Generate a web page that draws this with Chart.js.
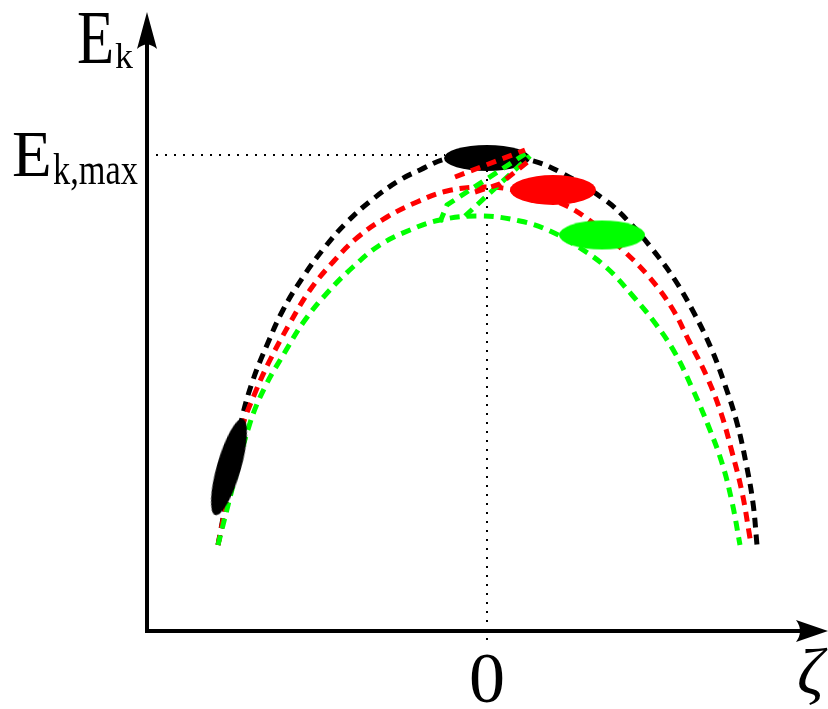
<!DOCTYPE html>
<html>
<head>
<meta charset="utf-8">
<script src="https://cdn.jsdelivr.net/npm/chart.js@4.4.0/dist/chart.umd.min.js"></script>
<style>
  html, body { margin: 0; padding: 0; background: #fff; }
  #wrap { width: 828px; height: 709px; position: relative; }
</style>
</head>
<body>
<div id="wrap"><canvas id="chart"></canvas></div>
<script>
// values; zeta horizontal, E_k vertical, origin where the axes meet
const blackZeta = [-269, -257, -245, -234, -220, -204, -184, -162, -140, -114, -87, -67, -42, 0, 43, 73, 118, 142, 166, 188, 207, 224, 238, 250, 259, 266, 270];
const blackE    = [86, 150, 213, 251, 286, 321, 354, 384, 409, 432, 451, 461, 472, 478, 471, 459, 431, 409, 381, 351, 318, 283, 246, 208, 168, 128, 86];

const redZeta = [-269, -257, -245, -232, -217, -197, -177, -154, -129, -100, -70, -40, -2, 33, 66, 98, 138, 163, 185, 202, 220, 234, 245, 255, 262, 264];
const redE    = [86, 146, 203, 238, 271, 308, 341, 369, 394, 414, 429, 440, 444, 440, 431, 414, 379, 353, 323, 290, 254, 218, 179, 139, 99, 86];

const greenZeta = [-269, -253, -237, -222, -202, -182, -159, -134, -107, -77, -47, -7, 33, 63, 93, 120, 145, 168, 188, 206, 221, 235, 245, 253];
const greenE    = [86, 149, 208, 244, 279, 311, 339, 364, 386, 401, 411, 415, 410, 400, 383, 363, 336, 308, 278, 241, 206, 168, 129, 86];

// short dashed jumps near the top
const redJumpAZeta = [-32, 38];
const redJumpAE    = [454, 481];
const redJumpBZeta = [-12, 13, 43];
const redJumpBE    = [439, 447, 471];
const greenJumpAZeta = [-47, -40, 41];
const greenJumpAE    = [409, 426, 479];
const greenJumpBZeta = [-22, 43];
const greenJumpBE    = [415, 475];

// blobs: black top, red, green, black on the left branch
const blobZeta = [0, 66, 115, -258];
const blobE    = [473, 441, 396, 164];

const eMax = 476;
const zetaTicks = [0];
const axisZeta = [-340, 341];
const axisE = [-78, 631];

const pts = (xs, ys) => xs.map((x, i) => ({ x: x, y: ys[i] }));

function makeBlob(color, rx, ry) {
    const c = document.createElement('canvas');
    c.width = Math.ceil(rx * 2 + 2);
    c.height = Math.ceil(ry * 2 + 2);
    const g = c.getContext('2d');
    g.fillStyle = color;
    g.beginPath();
    g.ellipse(c.width / 2, c.height / 2, rx, ry, 0, 0, Math.PI * 2);
    g.fill();
    return c;
}

const blobStyles = [
    makeBlob('#000000', 43, 13),
    makeBlob('#ff0000', 43, 15),
    makeBlob('#00ff00', 43, 14.5),
    makeBlob('#000000', 12, 50),
];

const dashed = (color, data, order, tension) => ({
    data: data,
    showLine: true,
    borderColor: color,
    borderWidth: 5,
    borderDash: [10, 7],
    borderCapStyle: 'butt',
    pointRadius: 0,
    tension: tension,
    order: order,
});

const dotted = (data) => ({
    data: data,
    showLine: true,
    borderColor: '#000',
    borderWidth: 2,
    borderDash: [2, 7],
    pointRadius: 0,
    order: 9,
});

const figurePlugin = {
    id: 'figure',
    afterDatasetsDraw(chart) {
        const { ctx, scales } = chart;
        const x = scales.x, y = scales.y;
        const ox = x.getPixelForValue(axisZeta[0]);
        const oy = y.getPixelForValue(0);
        const tipX = x.getPixelForValue(axisZeta[1]);
        const tipY = y.getPixelForValue(axisE[1] - 12);
        ctx.save();
        ctx.strokeStyle = '#000';
        ctx.fillStyle = '#000';
        ctx.lineWidth = 4;
        ctx.lineCap = 'square';
        ctx.beginPath();
        ctx.moveTo(ox, oy);
        ctx.lineTo(tipX - 20, oy);
        ctx.moveTo(ox, oy);
        ctx.lineTo(ox, tipY + 20);
        ctx.stroke();
        // arrow heads
        ctx.beginPath();
        ctx.moveTo(tipX, oy);
        ctx.lineTo(tipX - 32, oy - 11);
        ctx.quadraticCurveTo(tipX - 24, oy, tipX - 32, oy + 11);
        ctx.closePath();
        ctx.fill();
        ctx.beginPath();
        ctx.moveTo(ox, tipY);
        ctx.lineTo(ox - 10, tipY + 37);
        ctx.quadraticCurveTo(ox, tipY + 28, ox + 10, tipY + 37);
        ctx.closePath();
        ctx.fill();
        ctx.restore();
    },
    afterDraw(chart) {
        const { ctx, scales } = chart;
        const x = scales.x, y = scales.y;
        ctx.save();
        ctx.fillStyle = '#000';
        ctx.textAlign = 'left';
        ctx.textBaseline = 'alphabetic';

        // E_k at the top of the vertical axis (the sketch's letters are a bit narrow)
        ctx.save();
        ctx.translate(77, 63);
        ctx.scale(0.8, 1);
        ctx.font = '76px "Liberation Serif"';
        ctx.fillText('E', 0, 0);
        ctx.restore();
        ctx.font = '36px "Liberation Serif"';
        ctx.fillText('k', 115, 68);

        const my = y.getPixelForValue(eMax);
        ctx.font = '65px "Liberation Serif"';
        ctx.fillText('E', 12, my + 21);
        ctx.save();
        ctx.translate(53, my + 29);
        ctx.scale(0.78, 1);
        ctx.font = '44px "Liberation Serif"';
        ctx.fillText('k,max', 0, 0);
        ctx.restore();

        ctx.textAlign = 'center';
        ctx.font = '72px "Liberation Serif"';
        zetaTicks.forEach(t => ctx.fillText(String(t), x.getPixelForValue(t), 702));

        ctx.textAlign = 'left';
        ctx.font = 'italic 66px "Liberation Serif"';
        ctx.fillText('ζ', 797, 694);
        ctx.restore();
    }
};

new Chart(document.getElementById('chart'), {
    type: 'scatter',
    data: {
        datasets: [
            dashed('#ff0000', pts(redJumpAZeta, redJumpAE), 1, 0),
            dashed('#ff0000', pts(redJumpBZeta, redJumpBE), 1, 0),
            dashed('#00ff00', pts(greenJumpAZeta, greenJumpAE), 1, 0),
            dashed('#00ff00', pts(greenJumpBZeta, greenJumpBE), 1, 0),
            {
                data: pts(blobZeta, blobE),
                pointStyle: blobStyles,
                rotation: [0, 0, 0, 16],
                pointRadius: 5,
                order: 2,
            },
            dashed('#000000', pts(blackZeta, blackE), 5, 0.4),
            dashed('#ff0000', pts(redZeta, redE), 4, 0.4),
            dashed('#00ff00', pts(greenZeta, greenE), 3, 0.4),
            dotted([{ x: axisZeta[0], y: eMax }, { x: -42, y: eMax }]),
            dotted([{ x: 0, y: 461 }, { x: 0, y: -11 }]),
        ]
    },
    options: {
        responsive: true,
        maintainAspectRatio: false,
        animation: false,
        events: [],
        layout: { padding: 0, autoPadding: false },
        plugins: {
            legend: { display: false },
            tooltip: { enabled: false }
        },
        scales: {
            x: { type: 'linear', min: axisZeta[0] - 147, max: axisZeta[1], display: false },
            y: { type: 'linear', min: axisE[0], max: axisE[1], display: false }
        }
    },
    plugins: [figurePlugin]
});
</script>
</body>
</html>
